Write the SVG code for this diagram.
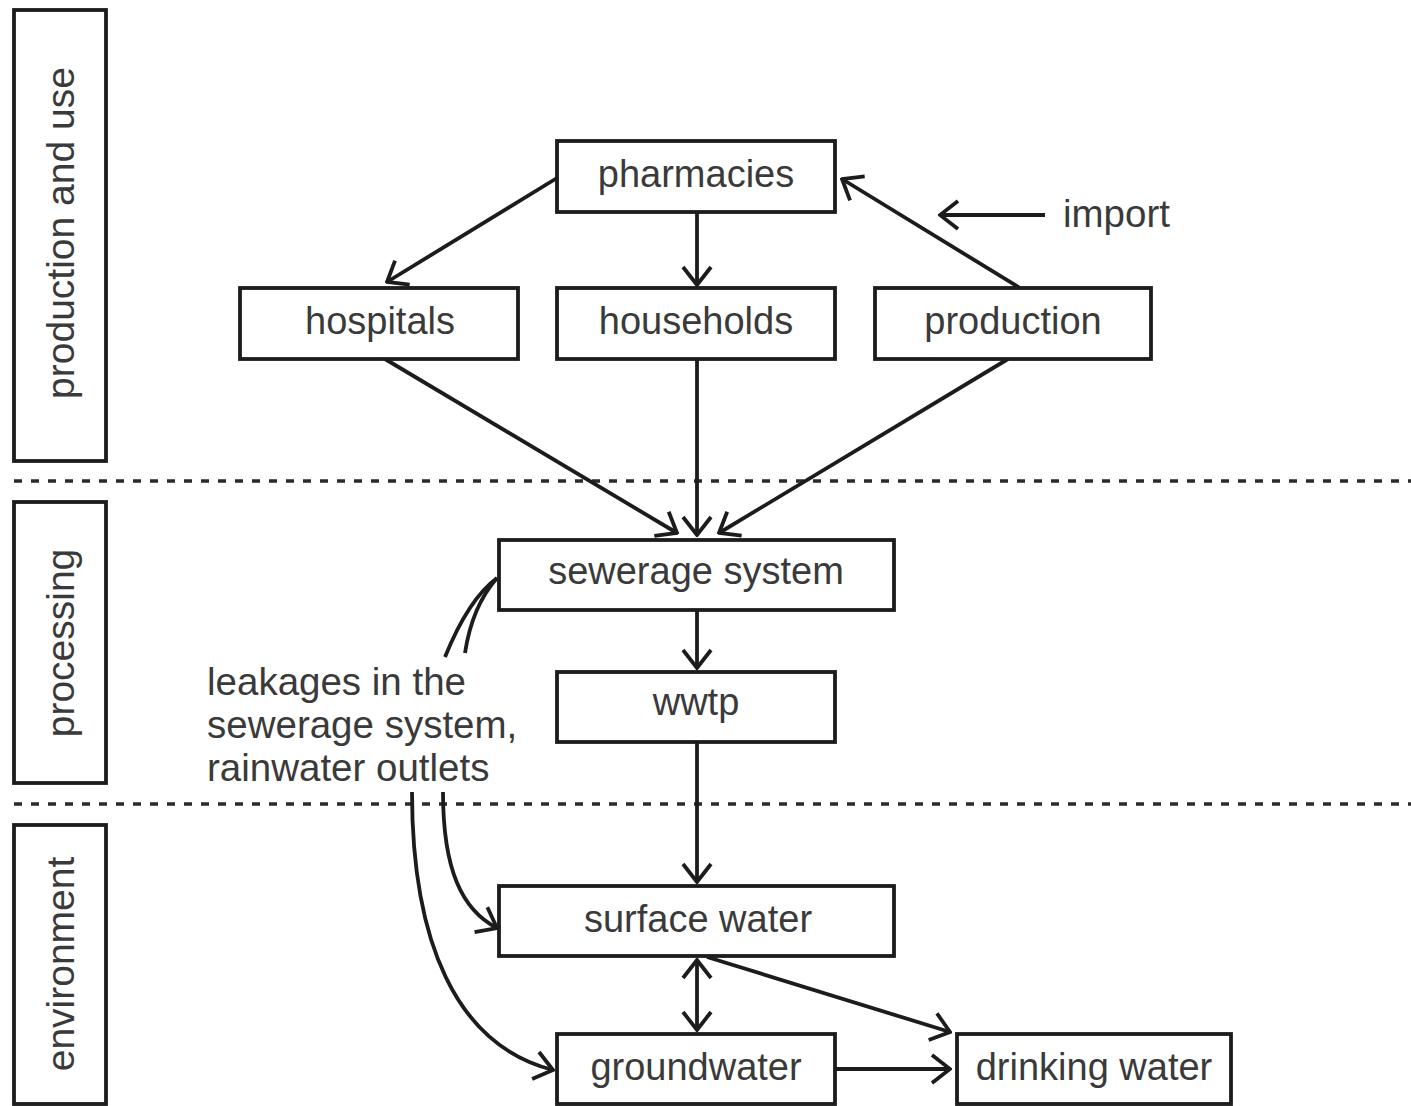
<svg xmlns="http://www.w3.org/2000/svg" width="1411" height="1106" viewBox="0 0 1411 1106">
<defs>
<style>
.box{fill:#fff;stroke:#1c1c1c;stroke-width:3.8}
.t{font-family:"Liberation Sans",Arial,sans-serif;font-size:38px;fill:#3a3a3a;text-anchor:middle}
.s{font-family:"Liberation Sans",Arial,sans-serif;font-size:39px;fill:#3a3a3a;text-anchor:middle}
.l{font-family:"Liberation Sans",Arial,sans-serif;font-size:38.5px;fill:#3a3a3a}
.c{fill:none;stroke:#1c1c1c;stroke-width:3.8}
.d{fill:none;stroke:#2a2a2a;stroke-width:3.5;stroke-dasharray:8 9}
</style>
<marker id="a" markerUnits="userSpaceOnUse" viewBox="0 0 22 32" markerWidth="22" markerHeight="32" refX="20" refY="16" orient="auto-start-reverse">
<path d="M2,2 L20,16 L2,30" fill="none" stroke="#1c1c1c" stroke-width="3.8"/>
</marker>
</defs>
<rect width="1411" height="1106" fill="#fff"/>
<g id="sections">
<line class="d" x1="14" y1="481" x2="1411" y2="481"/>
<line class="d" x1="14" y1="804" x2="1411" y2="804"/>
</g>
<g id="lane-production">
<rect class="box" x="14" y="10" width="92" height="451"/>
<text class="s" transform="translate(74,233) rotate(-90)">production and use</text>
</g>
<g id="lane-processing">
<rect class="box" x="14" y="502" width="92" height="281"/>
<text class="s" transform="translate(74,643) rotate(-90)">processing</text>
</g>
<g id="lane-environment">
<rect class="box" x="14" y="825" width="92" height="279"/>
<text class="s" transform="translate(74,964) rotate(-90)">environment</text>
</g>
<g id="connectors">
<line class="c" x1="557" y1="178" x2="387" y2="282" marker-end="url(#a)"/>
<line class="c" x1="697" y1="212" x2="697" y2="285" marker-end="url(#a)"/>
<line class="c" x1="1020" y1="288" x2="842" y2="179" marker-end="url(#a)"/>
<line class="c" x1="1045" y1="215" x2="940" y2="215" marker-end="url(#a)"/>
<line class="c" x1="385" y1="359" x2="677" y2="533" marker-end="url(#a)"/>
<line class="c" x1="697" y1="359" x2="697" y2="535" marker-end="url(#a)"/>
<line class="c" x1="1008" y1="359" x2="719" y2="533" marker-end="url(#a)"/>
<line class="c" x1="697" y1="610" x2="697" y2="668" marker-end="url(#a)"/>
<line class="c" x1="697" y1="742" x2="697" y2="882" marker-end="url(#a)"/>
<line class="c" x1="697" y1="960" x2="697" y2="1030" marker-start="url(#a)" marker-end="url(#a)"/>
<line class="c" x1="707" y1="957" x2="950" y2="1032" marker-end="url(#a)"/>
<line class="c" x1="835" y1="1069" x2="950" y2="1069" marker-end="url(#a)"/>
<path class="c" d="M445,657 C460,620 478,592 497,578"/>
<path class="c" d="M465,653 C470,620 482,595 497,578"/>
<path class="c" d="M443,792 C443,870 462,910 497,928" marker-end="url(#a)"/>
<path class="c" d="M412,792 C412,940 455,1045 553,1070" marker-end="url(#a)"/>
</g>
<g id="import-label"><text class="l" x="1063" y="227">import</text></g>
<g id="leakage-label">
<text class="l" x="207" y="695">leakages in the</text>
<text class="l" x="207" y="738">sewerage system,</text>
<text class="l" x="207" y="781">rainwater outlets</text>
</g>
<g id="pharmacies"><rect class="box" x="557" y="141" width="278" height="71"/><text class="t" x="696" y="187">pharmacies</text></g>
<g id="hospitals"><rect class="box" x="240" y="288" width="278" height="71"/><text class="t" x="380" y="334">hospitals</text></g>
<g id="households"><rect class="box" x="557" y="288" width="278" height="71"/><text class="t" x="696" y="334">households</text></g>
<g id="production"><rect class="box" x="875" y="288" width="276" height="71"/><text class="t" x="1013" y="334">production</text></g>
<g id="sewerage"><rect class="box" x="499" y="540" width="395" height="70"/><text class="t" x="696" y="584">sewerage system</text></g>
<g id="wwtp"><rect class="box" x="557" y="672" width="278" height="70"/><text class="t" x="696" y="715">wwtp</text></g>
<g id="surface-water"><rect class="box" x="499" y="886" width="395" height="70"/><text class="t" x="698" y="932">surface water</text></g>
<g id="groundwater"><rect class="box" x="557" y="1034" width="278" height="70"/><text class="t" x="696" y="1080">groundwater</text></g>
<g id="drinking-water"><rect class="box" x="957" y="1034" width="274" height="70"/><text class="t" x="1094" y="1080">drinking water</text></g>
</svg>
